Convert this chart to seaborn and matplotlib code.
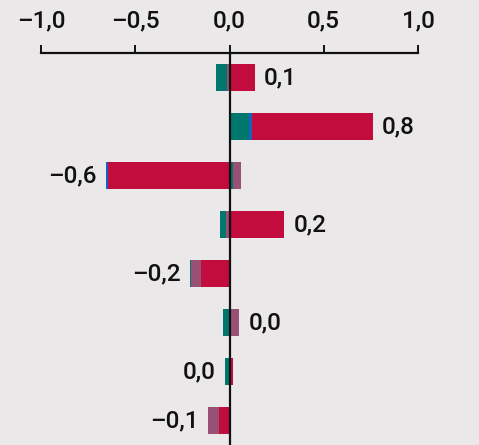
import numpy as np
import pandas as pd
import matplotlib
matplotlib.use("Agg")
import matplotlib.pyplot as plt
import seaborn as sns

# Contribution of each component per row (rows top to bottom)
rows = ["R1", "R2", "R3", "R4", "R5", "R6", "R7", "R8"]
teal = [-0.057, 0.106, 0.020, -0.035, -0.005, -0.032, -0.022, 0.0]
blue = [0.0, 0.016, -0.010, 0.0, 0.0, 0.0, 0.0, 0.0]
crimson = [0.133, 0.637, -0.643, 0.290, -0.152, 0.0, 0.020, -0.058]
mauve = [-0.015, 0.0, 0.041, -0.018, -0.050, 0.053, 0.0, -0.058]
navy = [0.0, 0.0, 0.0, 0.0, 0.0, 0.0, 0.0, 0.010]

xticks = [-1.0, -0.5, 0.0, 0.5, 1.0]

colors = {
    "teal": "#00776c",
    "blue": "#1a5fc0",
    "crimson": "#c20c3d",
    "mauve": "#985174",
    "navy": "#14306a",
}

df = pd.DataFrame({"row": rows, "teal": teal, "blue": blue,
                   "crimson": crimson, "mauve": mauve, "navy": navy})

# stacking order outward from zero, for the positive and negative sides
pos_order = ["teal", "blue", "crimson", "mauve", "navy"]
neg_order = ["crimson", "mauve", "blue", "teal", "navy"]

sns.set_theme(style="white")
bg = "#eae8e9"
plt.rcParams["font.family"] = ["Roboto", "DejaVu Sans"]
plt.rcParams["font.weight"] = "medium"

fig = plt.figure(figsize=(4.79, 4.45), dpi=100, facecolor=bg)
ax = fig.add_axes([41 / 479, 0, 377 / 479, 392 / 445])
ax.set_facecolor(bg)

y = np.arange(len(rows))
h = 0.55

pos_left = np.zeros(len(rows))
for name in pos_order:
    v = np.clip(df[name].to_numpy(), 0, None)
    ax.barh(y, v, left=pos_left, height=h, color=colors[name],
            edgecolor="none", zorder=2)
    pos_left += v

neg_left = np.zeros(len(rows))
for name in neg_order:
    v = np.clip(df[name].to_numpy(), None, 0)
    ax.barh(y, v, left=neg_left, height=h, color=colors[name],
            edgecolor="none", zorder=2)
    neg_left += v

net = df[["teal", "blue", "crimson", "mauve", "navy"]].sum(axis=1).to_numpy()


def fmt(v):
    s = f"{abs(v):.1f}".replace(".", ",")
    if round(v, 1) < 0:
        s = "\u2013" + s
    return s


fs = 17.5
for i, v in enumerate(net):
    if v >= 0:
        ax.text(pos_left[i] + 0.05, y[i], fmt(v), ha="left", va="center",
                fontsize=fs, color="#111111")
    else:
        ax.text(neg_left[i] - 0.05, y[i], fmt(v), ha="right", va="center",
                fontsize=fs, color="#111111")

ax.axvline(0, color="#111111", lw=1.6, zorder=3)

ax.set_xlim(-1.0, 1.0)
ax.set_ylim(len(rows) - 0.5, -0.5)
ax.set_xticks(xticks)
ax.set_xticklabels([fmt(t) for t in xticks], fontsize=fs, color="#111111")
ax.set_yticks([])
ax.xaxis.tick_top()
ax.tick_params(axis="x", direction="out", length=6, width=1.4,
               color="#111111", pad=9)
for s in ["left", "right", "bottom"]:
    ax.spines[s].set_visible(False)
ax.spines["top"].set_color("#111111")
ax.spines["top"].set_linewidth(1.6)

fig.savefig("out.png", dpi=100, facecolor=bg)
